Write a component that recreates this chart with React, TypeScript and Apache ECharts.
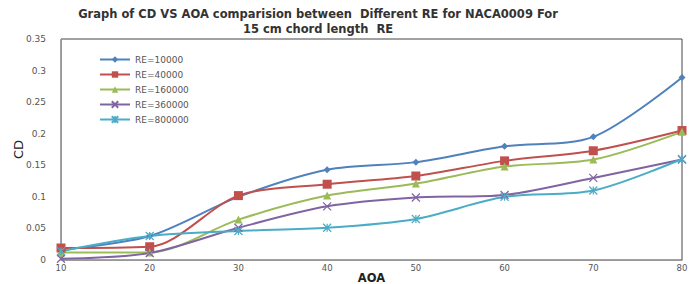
import React, { useEffect, useRef } from "react";
import * as echarts from "echarts";

const aoa = [10, 20, 30, 40, 50, 60, 70, 80];
const seriesNames = ["RE=10000", "RE=40000", "RE=160000", "RE=360000", "RE=800000"];
const re10000 = [0.016, 0.038, 0.1, 0.143, 0.155, 0.18, 0.195, 0.289];
const re40000 = [0.019, 0.021, 0.102, 0.12, 0.133, 0.157, 0.173, 0.205];
const re160000 = [0.012, 0.012, 0.064, 0.102, 0.121, 0.148, 0.159, 0.203];
const re360000 = [0.002, 0.011, 0.051, 0.085, 0.099, 0.103, 0.13, 0.159];
const re800000 = [0.014, 0.038, 0.046, 0.051, 0.065, 0.1, 0.11, 0.16];
const yTicks = [0, 0.05, 0.1, 0.15, 0.2, 0.25, 0.3, 0.35];

const colors = ["#4F81BD", "#C0504D", "#9BBB59", "#8064A2", "#4BACC6"];
const symbols = [
  "diamond",
  "rect",
  "triangle",
  "path://M0,0L10,10M10,0L0,10",
  "path://M0,0L10,10M10,0L0,10M5,0L5,10",
];
const symbolSizes = [7, 9, 8, 8, 8];

export default function App() {
  const ref = useRef<HTMLDivElement>(null);
  useEffect(() => {
    if (!ref.current) return;
    const chart = echarts.init(ref.current, undefined, { renderer: "svg" });
    const all = [re10000, re40000, re160000, re360000, re800000];
    chart.setOption({
      animation: false,
      backgroundColor: "#fff",
      title: {
        text: "Graph of CD VS AOA comparision between  Different RE for NACA0009 For\n15 cm chord length  RE",
        left: 318,
        textAlign: "center",
        top: 6,
        padding: 0,
        textStyle: {
          fontFamily: "DejaVu Sans",
          fontWeight: "bold",
          fontSize: 11.5,
          color: "#333",
          lineHeight: 15,
        },
      },
      legend: {
        orient: "vertical",
        left: 94,
        top: 50,
        itemWidth: 30,
        itemHeight: 8,
        itemGap: 6,
        textStyle: { fontFamily: "DejaVu Sans", fontSize: 9, color: "#555" },
        data: seriesNames,
      },
      grid: {
        left: 61,
        right: 17,
        top: 39,
        bottom: 24,
        outerBoundsMode: "none",
        containLabel: false,
        show: true,
        borderColor: "#444",
        borderWidth: 1,
      },
      xAxis: {
        type: "value",
        min: 10,
        max: 80,
        interval: 10,
        name: "AOA",
        nameLocation: "middle",
        nameMoveOverlap: false,
        nameGap: 12,
        nameTextStyle: { fontFamily: "DejaVu Sans", fontWeight: "bold", fontSize: 11.5, color: "#222" },
        axisLine: { lineStyle: { color: "#999" } },
        axisTick: { show: false },
        splitLine: { show: false },
        axisLabel: { fontFamily: "DejaVu Sans", fontSize: 8.5, color: "#555", margin: 3 },
      },
      yAxis: {
        type: "value",
        min: 0,
        max: 0.35,
        interval: 0.05,
        name: "CD",
        nameLocation: "middle",
        nameMoveOverlap: false,
        nameGap: 36,
        nameRotate: 90,
        nameTextStyle: { fontFamily: "DejaVu Sans", fontSize: 13, color: "#222" },
        axisLine: { show: true, lineStyle: { color: "#999" } },
        axisTick: { show: false },
        splitLine: { show: false },
        axisLabel: {
          fontFamily: "DejaVu Sans",
          fontSize: 9,
          color: "#555",
          margin: 15,
          formatter: (v: number) => {
            const t = yTicks.find((x) => Math.abs(x - v) < 1e-9);
            return t === undefined ? "" : String(parseFloat(t.toFixed(2)));
          },
        },
      },
      series: seriesNames.map((name, i) => ({
        name,
        type: "line",
        smooth: 0.3,
        data: aoa.map((a, j) => [a, all[i][j]]),
        symbol: symbols[i],
        symbolSize: symbolSizes[i],
        showAllSymbol: true,
        lineStyle: { color: colors[i], width: 2 },
        itemStyle: {
          color: colors[i],
          borderColor: colors[i],
          borderWidth: i >= 3 ? 1.2 : 0,
        },
      })),
    });
    return () => chart.dispose();
  }, []);
  return <div ref={ref} style={{ width: 699, height: 284, position: "absolute", left: 0, top: 0 }} />;
}
